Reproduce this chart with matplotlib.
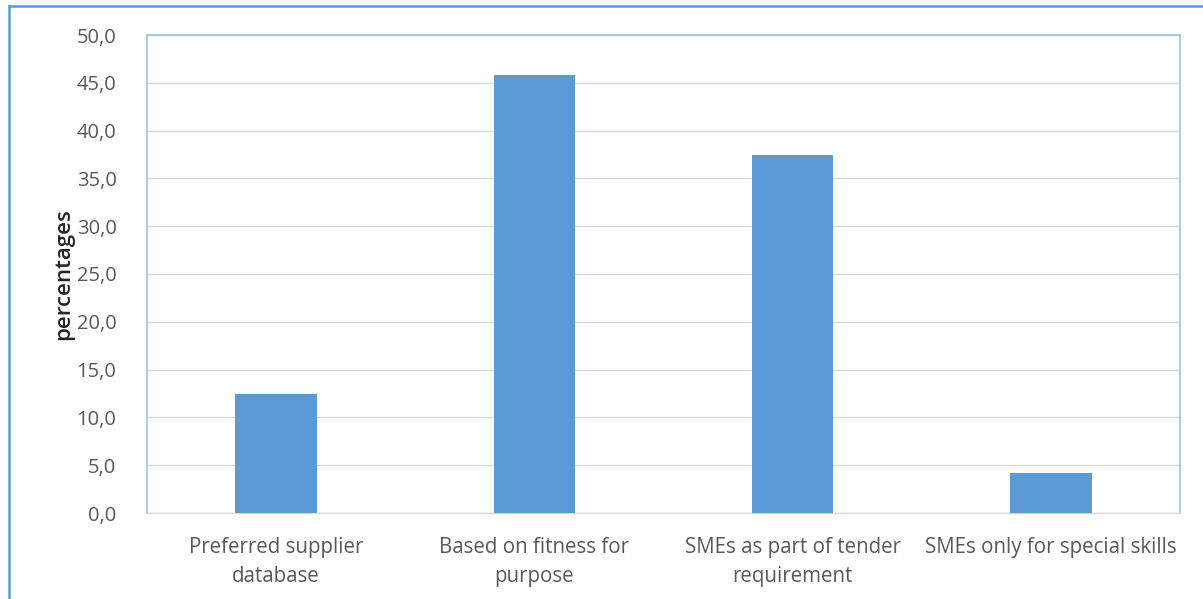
import matplotlib.pyplot as plt
from matplotlib.lines import Line2D

# Data
categories = [
    "Preferred supplier\ndatabase",
    "Based on fitness for\npurpose",
    "SMEs as part of tender\nrequirement",
    "SMEs only for special skills",
]
values = [12.5, 45.8, 37.5, 4.2]
yticks = [0, 5, 10, 15, 20, 25, 30, 35, 40, 45, 50]
ytick_labels = [f"{v:.1f}".replace(".", ",") for v in yticks]

bar_color = "#5B9BD5"
text_color = "#595959"
plt.rcParams["font.family"] = ["Open Sans", "DejaVu Sans"]

fig = plt.figure(figsize=(12.03, 5.99), dpi=100)
ax = fig.add_axes([147 / 1203, 86 / 599, 1033 / 1203, 478 / 599])

x = range(len(categories))
ax.bar(x, values, width=0.315, color=bar_color, zorder=3)

ax.set_xlim(-0.5, len(categories) - 0.5)
ax.set_ylim(0, 50)
ax.set_yticks(yticks)
ax.set_yticklabels(ytick_labels, fontsize=14.5)
ax.set_xticks(list(x))
ax.set_xticklabels(categories, linespacing=1.55, fontsize=14.8)

ax.tick_params(axis="both", length=0, colors=text_color)
ax.tick_params(axis="y", pad=22)
ax.tick_params(axis="x", pad=17)
ax.yaxis.grid(True, color="#D9D9D9", linewidth=1, zorder=0)

for side in ["left", "top", "right"]:
    ax.spines[side].set_color("#9DC3E6")
    ax.spines[side].set_linewidth(1.2)
ax.spines["bottom"].set_color("#D9D9D9")
ax.spines["bottom"].set_linewidth(1)

ax.set_ylabel("percentages", fontsize=16, color="#262626",
              fontweight="semibold", labelpad=2)

# outer chart frame (only top and left visible in the crop)
fig.add_artist(Line2D([8.5 / 1203, 1], [1 - 5.5 / 599, 1 - 5.5 / 599],
                      transform=fig.transFigure, color=bar_color, lw=1.8))
fig.add_artist(Line2D([8.5 / 1203, 8.5 / 1203], [0, 1 - 5.5 / 599],
                      transform=fig.transFigure, color=bar_color, lw=1.8))

fig.savefig("out.png", dpi=100)
